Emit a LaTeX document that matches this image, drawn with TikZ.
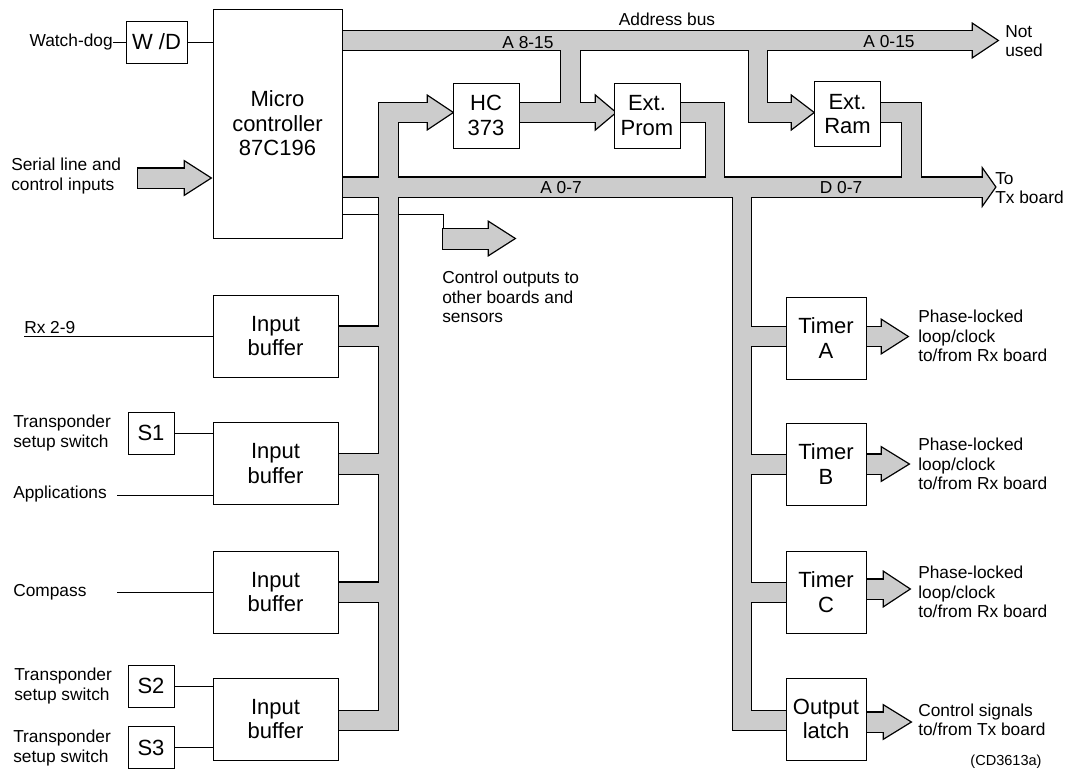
\documentclass[tikz,border=0pt]{standalone}
\usepackage{fontspec}
\setmainfont{Liberation Sans}
\usetikzlibrary{backgrounds}

% bus outlines: x1/y1/x2/y2 (rectangles) and x0/yc/xtip/half (heads)
\def\busbars{335/31/975/50, 561/45/580/122, 512/103/598/122, 749/45/767/122, 749/103/794/122,
  335/177.5/985/196.5, 379/103/398/730, 379/103/430/122,
  330/326.5/385/346, 330/454/385/473.5, 330/582.5/385/602, 330/711/398/730,
  673/103/724/122, 706/103/724/182, 875/103/921/122, 902/103/921/182,
  733/190/751/730, 745/327/793/346, 745/455/793/474, 745/583/793/602, 733/711/793/730,
  138/168.5/187/187.5, 443/229/491/248.5,
  860/327/884/346, 860/454.5/884/473.5, 860/579.5/886/598.5, 860/712.5/886/731.5}
\def\busheads{973/40.5/997/16, 596/112.5/615/16, 792/112.5/813/16, 428/112.5/452/16,
  983/187/995/17, 185/178/210/16, 489/238.5/514/16,
  882/336.5/907/16, 882/464/908/16, 884/589/909/16.5, 884/722/910/16}

\begin{document}
\begin{tikzpicture}[
    x=0.75pt, y=-0.75pt,
    box/.style={rectangle, draw=black, fill=white, line width=0.7pt, inner sep=0pt, align=center, font=\fontsize{16.5}{18.4}\selectfont},
    cpu/.style={box, minimum width=96.75pt, minimum height=171.75pt},
    chip/.style={box, minimum width=49.5pt, minimum height=48.75pt},
    buffer/.style={box, minimum width=93.75pt, minimum height=61.5pt},
    timer/.style={box, minimum width=60pt, minimum height=61.5pt},
    swbox/.style={box, minimum width=34.5pt, minimum height=31.5pt},
    lbl/.style={inner sep=0pt, align=left, font=\fontsize{13}{14.6}\selectfont},
    wire/.style={draw=black, line width=0.6pt},
]
    \useasboundingbox (0,0) rectangle (1070,774);

    % Processor and memory
    \node (micro) [cpu] at (277.5,123.5) {Micro\\controller\\87C196};
    \node (wd) [box, minimum width=45.75pt, minimum height=31.5pt] at (156.5,42) {W /D};
    \node (hc) [chip] at (486,115.5) {HC\\373};
    \node (prom) [chip] at (647,115.5) {Ext.\\Prom};
    \node (ram) [chip] at (847.5,114) {Ext.\\Ram};

    % Input buffers and switches
    \node (buf1) [buffer] at (275.5,336) {Input\\buffer};
    \node (buf2) [buffer] at (275.5,463.5) {Input\\buffer};
    \node (buf3) [buffer] at (275.5,592) {Input\\buffer};
    \node (buf4) [buffer] at (275.5,719) {Input\\buffer};
    \node (s1) [swbox] at (151,433) {S1};
    \node (s2) [swbox] at (151,686) {S2};
    \node (s3) [swbox] at (151,747.5) {S3};

    % Timers and latch
    \node (tima) [timer] at (826,338) {Timer\\A};
    \node (timb) [timer] at (826,464) {Timer\\B};
    \node (timc) [timer] at (826,592) {Timer\\C};
    \node (latch) [timer] at (826,719) {Output\\latch};

    % Labels
    \node (wdin) [lbl, anchor=east] at (113,42) {Watch-dog};
    \node (serial) [lbl, anchor=west] at (11,176) {Serial line and\\control inputs};
    \node (addr) [lbl] at (667,19) {Address bus};
    \node (ahi) [lbl] at (528,42.5) {A 8-15};
    \node (aall) [lbl] at (889,42) {A 0-15};
    \node (unused) [lbl, anchor=west] at (1005,41) {Not\\used};
    \node (alo) [lbl] at (561,188) {A 0-7};
    \node (dlo) [lbl] at (841,188) {D 0-7};
    \node (totx) [lbl, anchor=west] at (995,188) {To\\Tx board};
    \node (ctl) [lbl, anchor=west] at (442,297) {Control outputs to\\other boards and\\sensors};
    \node (rx) [lbl, anchor=base west] at (24,333) {Rx 2-9};
    \node (tsw1) [lbl, anchor=west] at (13,433) {Transponder\\setup switch};
    \node (apps) [lbl, anchor=west] at (13,494) {Applications};
    \node (comp) [lbl, anchor=west] at (13,592) {Compass};
    \node (tsw2) [lbl, anchor=west] at (14,686) {Transponder\\setup switch};
    \node (tsw3) [lbl, anchor=west] at (13,748) {Transponder\\setup switch};
    \node (plla) [lbl, anchor=west] at (918,336) {Phase-locked\\loop/clock\\to/from Rx board};
    \node (pllb) [lbl, anchor=west] at (918,464) {Phase-locked\\loop/clock\\to/from Rx board};
    \node (pllc) [lbl, anchor=west] at (918,592) {Phase-locked\\loop/clock\\to/from Rx board};
    \node (sigtx) [lbl, anchor=west] at (918,720) {Control signals\\to/from Tx board};
    \node (ref) [inner sep=0pt, font=\fontsize{10.9}{12}\selectfont] at (1006,762) {(CD3613a)};

    % Signal lines
    \coordinate (rxin) at (24,336);
    \coordinate (appsin) at (117,495);
    \coordinate (compin) at (117,592);
    \draw [wire] (wdin.east) -- (wd.west);
    \draw [wire] (wd.east) -- (wd.east -| micro.west);
    \draw [wire] (rxin) -- (rxin -| buf1.west);
    \draw [wire] (s1.east) -- (s1.east -| buf2.west);
    \draw [wire] (appsin) -- (appsin -| buf2.west);
    \draw [wire] (compin) -- (compin -| buf3.west);
    \draw [wire] (s2.east) -- (s2.east -| buf4.west);
    \draw [wire] (s3.east) -- (s3.east -| buf4.west);

    % Buses: thick outline first, then fill over it
    \begin{scope}[on background layer]
        \coordinate (ctlbend) at (443,214);
        \draw [wire] (ctlbend -| micro.east) -- (ctlbend) -- (443,230);
        \foreach \xa/\ya/\xb/\yb in \busbars {\draw [line width=2pt] (\xa,\ya) rectangle (\xb,\yb);}
        \foreach \xa/\yc/\xt/\hh in \busheads {\draw [line width=2pt] (\xa,\yc-\hh) -- (\xt,\yc) -- (\xa,\yc+\hh) -- cycle;}
        \foreach \xa/\ya/\xb/\yb in \busbars {\fill [black!20] (\xa,\ya) rectangle (\xb,\yb);}
        \foreach \xa/\yc/\xt/\hh in \busheads {\fill [black!20] (\xa,\yc-\hh) -- (\xt,\yc) -- (\xa,\yc+\hh) -- cycle;}
    \end{scope}

\end{tikzpicture}
\end{document}
